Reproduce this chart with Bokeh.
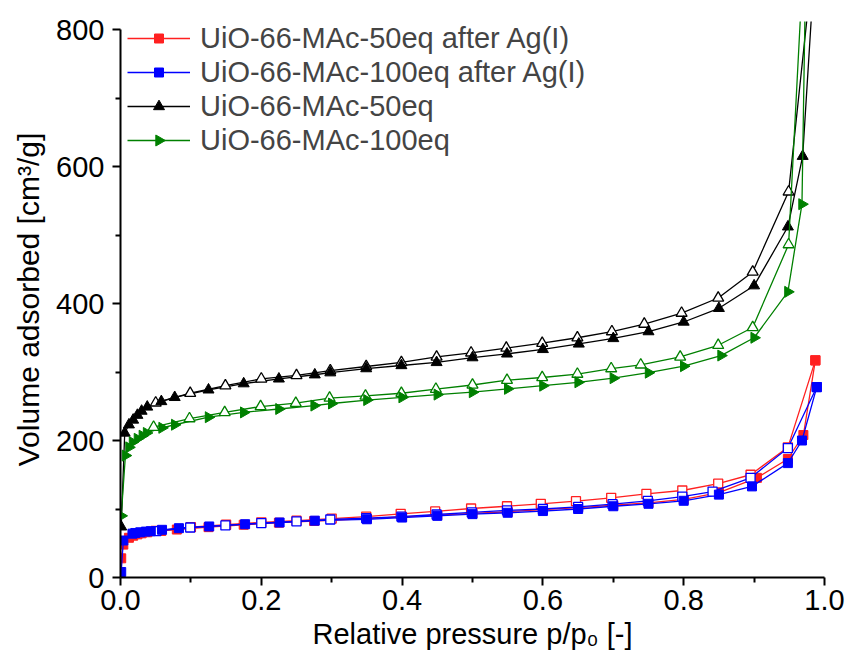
import math
from bokeh.plotting import figure
from bokeh.models import (Range1d, FixedTicker, PrintfTickFormatter, Legend, LegendItem)
from bokeh.embed import file_html
from bokeh.resources import INLINE

# N2 isotherms: relative pressure p/p0 and adsorbed volume (cm3/g)
# UiO-66-MAc-50eq after Ag(I)
ag50_ads_p = [0.001, 0.004, 0.012, 0.018, 0.024, 0.030, 0.038, 0.058, 0.080, 0.125, 0.175, 0.225,
              0.275, 0.35, 0.40, 0.45, 0.50, 0.55, 0.60, 0.65, 0.70, 0.75, 0.80, 0.85, 0.904,
              0.948, 0.970, 0.987]
ag50_ads_v = [28, 48, 58, 61, 63, 64.5, 66, 68, 70, 73.5, 77, 80,
              82.5, 86, 88.5, 91, 93.5, 96, 99, 102, 105.5, 109, 114, 124, 145.5,
              173, 208, 317]
ag50_des_p = [0.987, 0.948, 0.895, 0.849, 0.798, 0.747, 0.697, 0.647, 0.597, 0.549, 0.498,
              0.447, 0.398, 0.349, 0.30, 0.25, 0.20, 0.15, 0.10, 0.05]
ag50_des_v = [317, 190, 150, 137, 127, 122, 116.3, 111.4, 107.6, 104, 100.7,
              96.4, 93, 89, 86, 83, 80.5, 77, 73.5, 68]

# UiO-66-MAc-100eq after Ag(I)
ag100_ads_p = [0.001, 0.004, 0.017, 0.021, 0.028, 0.036, 0.043, 0.059, 0.083, 0.126, 0.177,
               0.226, 0.276, 0.35, 0.40, 0.45, 0.50, 0.55, 0.60, 0.65, 0.70, 0.75, 0.80, 0.85,
               0.897, 0.948, 0.968, 0.989]
ag100_ads_v = [8, 54, 64, 65, 66, 67, 67.6, 69.6, 72, 74.5, 77.8,
               80.3, 83, 85, 87.5, 90, 92.5, 94.5, 97, 100, 104, 107.6, 112, 121,
               133, 167, 200, 278]
ag100_des_p = [0.989, 0.948, 0.895, 0.841, 0.798, 0.749, 0.699, 0.65, 0.60, 0.549, 0.499,
               0.449, 0.399, 0.349, 0.298, 0.25, 0.20, 0.149, 0.099, 0.051]
ag100_des_v = [278, 189, 145.5, 125.5, 118, 112, 107, 103, 100, 98, 95,
               92, 89, 86.6, 84.7, 81.8, 79.3, 76, 73, 67.6]

# UiO-66-MAc-50eq
m50_ads_p = [0.001, 0.006, 0.012, 0.018, 0.024, 0.030, 0.038, 0.058, 0.077, 0.125, 0.175, 0.225,
             0.276, 0.298, 0.349, 0.399, 0.449, 0.50, 0.549, 0.60, 0.651, 0.70, 0.75, 0.80,
             0.85, 0.90, 0.948, 0.969, 0.99]
m50_ads_v = [74, 211, 223, 230, 237, 243, 249, 257, 263, 274, 283, 290,
             296, 299, 305, 309.5, 314, 321, 326.5, 333, 341, 349, 359, 373,
             393, 426, 512, 615, 960]
m50_des_p = [0.99, 0.949, 0.898, 0.849, 0.797, 0.744, 0.698, 0.649, 0.599, 0.548, 0.498,
             0.449, 0.399, 0.349, 0.298, 0.25, 0.20, 0.149, 0.099, 0.05]
m50_des_v = [960, 563, 446, 408, 386, 370, 359, 350, 342, 335, 328,
             322, 314, 308, 302, 295, 290, 280, 269, 255]

# UiO-66-MAc-100eq
m100_ads_p = [0.001, 0.007, 0.012, 0.017, 0.024, 0.031, 0.037, 0.059, 0.077, 0.125, 0.175, 0.225,
              0.275, 0.30, 0.35, 0.40, 0.45, 0.50, 0.55, 0.60, 0.65, 0.70, 0.75, 0.80,
              0.853, 0.90, 0.948, 0.968, 0.975]
m100_ads_v = [90, 178, 190, 197.5, 202.5, 207, 211, 218.5, 223, 234, 241, 246,
              251, 254, 259, 263, 267, 270.5, 275.4, 280, 285, 291, 299, 308.5,
              324, 350, 417, 545, 1000]
m100_des_p = [0.975, 0.949, 0.898, 0.849, 0.795, 0.739, 0.697, 0.649, 0.599, 0.549, 0.50,
              0.448, 0.399, 0.348, 0.297, 0.249, 0.199, 0.148, 0.098, 0.047]
m100_des_v = [1000, 486, 365, 339, 322, 310.5, 305, 297, 292, 288, 281,
              275, 269, 265, 262, 254.5, 249.6, 241, 232, 219.5]

labels = ["UiO-66-MAc-50eq after Ag(I)", "UiO-66-MAc-100eq after Ag(I)",
          "UiO-66-MAc-50eq", "UiO-66-MAc-100eq"]

x_ticks = [0.0, 0.2, 0.4, 0.6, 0.8, 1.0]
x_minor = [0.1, 0.3, 0.5, 0.7, 0.9]
y_ticks = [0, 200, 400, 600, 800]
y_minor = [100, 300, 500, 700]

FONT = "Liberation Sans"

# Frame geometry (px). The frame reaches a little above the 800 tick so the
# legend's first row is not cut; the y axis itself stops at 800.
W, H = 845, 654
BORDER_L, BORDER_R, BORDER_T, BORDER_B = 120, 21, 21, 77
FRAME_W = W - BORDER_L - BORDER_R
FRAME_H = H - BORDER_T - BORDER_B
PX_PER_UNIT = 0.685
Y_TOP = FRAME_H / PX_PER_UNIT

p = figure(width=W, height=H, x_range=Range1d(0, 1), y_range=Range1d(0, Y_TOP),
           output_backend="svg", toolbar_location=None,
           min_border_left=BORDER_L, min_border_right=BORDER_R,
           min_border_top=BORDER_T, min_border_bottom=BORDER_B)
p.outline_line_color = None
p.grid.visible = False
p.background_fill_color = "white"

for ax in (p.xaxis[0], p.yaxis[0]):
    ax.axis_line_width = 2
    ax.major_tick_line_width = 2
    ax.minor_tick_line_width = 2
    ax.major_tick_in = 0
    ax.major_tick_out = 8
    ax.minor_tick_in = 0
    ax.minor_tick_out = 5
    ax.major_label_text_font = FONT
    ax.major_label_text_font_size = "29px"
    ax.major_label_text_color = "black"
    ax.axis_label_text_font = FONT
    ax.axis_label_text_font_style = "normal"
    ax.axis_label_text_color = "black"

p.xaxis.axis_label_text_font_size = "29px"
p.yaxis.axis_label_text_font_size = "30px"
p.yaxis.bounds = (0, 800)
p.xaxis.ticker = FixedTicker(ticks=x_ticks, minor_ticks=x_minor)
p.yaxis.ticker = FixedTicker(ticks=y_ticks, minor_ticks=y_minor)
p.xaxis.formatter = PrintfTickFormatter(format="%.1f")
p.xaxis.major_label_standoff = 4
p.yaxis.major_label_standoff = 8
p.xaxis.axis_label = "Relative pressure p/p\u2080 [-]"
p.yaxis.axis_label = "Volume adsorbed [cm\u00b3/g]"
p.xaxis.axis_label_standoff = 5
p.yaxis.axis_label_standoff = 8

series = [
    (ag50_ads_p, ag50_ads_v, ag50_des_p, ag50_des_v, "#ff2020", "square", 0.0, "square", 9),
    (ag100_ads_p, ag100_ads_v, ag100_des_p, ag100_des_v, "#0000ff", "square", 0.0, "square", 9),
    (m50_ads_p, m50_ads_v, m50_des_p, m50_des_v, "black", "triangle", 0.0, "triangle", 11),
    (m100_ads_p, m100_ads_v, m100_des_p, m100_des_v, "#008000", "triangle", -math.pi / 2, "triangle", 11),
]

# Legend layout (px from the frame's top-left corner)
LEG_X, ROW0, ROW_H, KEY_W, STANDOFF = 7, 17, 34, 63, 10

items = []
for i, (lab, (ap, av, dp, dv, col, amark, aang, dmark, size)) in enumerate(zip(labels, series)):
    ad_line = p.line(ap, av, line_color=col, line_width=1.3)
    p.line(dp, dv, line_color=col, line_width=1.3)
    p.scatter(dp, dv, marker=dmark, size=size, fill_color="white",
              line_color=col, line_width=1.3)
    p.scatter(ap, av, marker=amark, angle=aang, size=size,
              fill_color=col, line_color=col, line_width=1)
    # legend keys are drawn unrotated by Bokeh, so the key marker is placed
    # as a small swatch at the centre of its legend row
    kx = (LEG_X + KEY_W / 2) / FRAME_W
    ky = (FRAME_H - (ROW0 + ROW_H * i)) / PX_PER_UNIT
    p.scatter([kx], [ky], marker=amark, angle=aang, size=size,
              fill_color=col, line_color=col, line_width=1)
    items.append(LegendItem(label=lab, renderers=[ad_line]))

legend = Legend(items=items, location=(LEG_X, FRAME_H - 4 * ROW_H), padding=0, margin=0,
                spacing=0, glyph_width=KEY_W, glyph_height=ROW_H, label_height=ROW_H,
                label_standoff=STANDOFF, label_text_font=FONT, label_text_font_size="29px",
                background_fill_alpha=0, border_line_color=None)
p.add_layout(legend, "center")

open("out.html", "w").write(file_html(p, INLINE))
